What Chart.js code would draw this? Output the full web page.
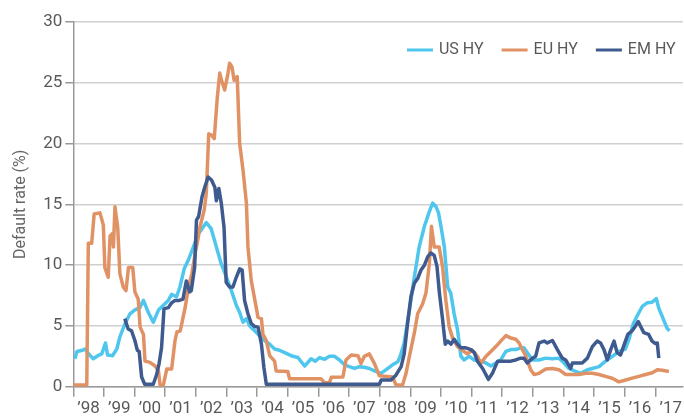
<!DOCTYPE html>
<html>
<head>
<meta charset="utf-8">
<script src="https://cdn.jsdelivr.net/npm/chart.js@4/dist/chart.umd.min.js"></script>
<style>
  body { margin: 0; background: #fff; }
  #chart { display: block; }
</style>
</head>
<body>
<canvas id="chart" width="684" height="416"></canvas>
<script>
// tick labels (one per year, drawn in the middle of each year)
const yearLabels = ['\u201998', '\u201999', '\u201900', '\u201901', '\u201902', '\u201903', '\u201904', '\u201905', '\u201906', '\u201907',
  '\u201908', '\u201909', '\u201910', '\u201911', '\u201912', '\u201913', '\u201914', '\u201915', '\u201916', '\u201917'];

// US HY default rate (%), x = decimal year
const usYears = [1998.05, 1998.12, 1998.3, 1998.38, 1998.5, 1998.65, 1998.8, 1998.93, 1999.05, 1999.12, 1999.28, 1999.42, 1999.52, 1999.69, 1999.85,
  2000.0, 2000.17, 2000.29, 2000.45, 2000.61, 2000.78, 2000.94, 2001.1, 2001.21, 2001.37, 2001.48, 2001.62, 2001.75, 2001.92,
  2002.08, 2002.18, 2002.34, 2002.5, 2002.67, 2002.83, 2003.0, 2003.16, 2003.32, 2003.43, 2003.54, 2003.65, 2003.76, 2003.92,
  2004.08, 2004.24, 2004.41, 2004.57, 2004.73, 2004.9, 2005.11, 2005.33, 2005.55, 2005.76, 2005.9, 2006.04, 2006.2, 2006.36,
  2006.52, 2006.69, 2006.85, 2007.01, 2007.18, 2007.34, 2007.5, 2007.66, 2007.83, 2008.04, 2008.21, 2008.42, 2008.59, 2008.67,
  2008.8, 2008.97, 2009.13, 2009.29, 2009.46, 2009.62, 2009.73, 2009.84, 2009.92, 2010.0, 2010.11, 2010.22, 2010.32, 2010.43,
  2010.54, 2010.65, 2010.76, 2010.92, 2011.08, 2011.3, 2011.47, 2011.63, 2011.79, 2011.95, 2012.12, 2012.28, 2012.44, 2012.6,
  2012.71, 2012.82, 2012.99, 2013.2, 2013.42, 2013.64, 2013.85, 2014.02, 2014.18, 2014.4, 2014.56, 2014.78, 2014.94, 2015.16,
  2015.37, 2015.6, 2015.81, 2016.02, 2016.15, 2016.28, 2016.42, 2016.57, 2016.73, 2016.89, 2017.03, 2017.11, 2017.22, 2017.38, 2017.46];
const usValues = [2.3, 2.9, 3.0, 3.1, 2.7, 2.3, 2.55, 2.7, 3.6, 2.6, 2.55, 3.1, 4.1, 5.2, 6.0,
  6.3, 6.5, 7.1, 6.1, 5.3, 6.3, 6.7, 7.1, 7.6, 7.4, 8.2, 9.7, 10.4, 11.5,
  12.6, 12.9, 13.5, 13.0, 11.5, 10.1, 9.0, 7.9, 6.7, 6.1, 5.3, 5.6, 5.0, 4.6,
  4.2, 3.8, 3.5, 3.1, 3.0, 2.8, 2.55, 2.4, 1.7, 2.3, 2.1, 2.4, 2.25, 2.5,
  2.5, 2.2, 1.8, 1.65, 1.5, 1.65, 1.6, 1.5, 1.3, 1.1, 1.4, 1.8, 2.05, 2.5,
  3.6, 6.3, 9.0, 11.5, 13.2, 14.4, 15.1, 14.8, 14.3, 13.2, 11.5, 8.2, 7.7, 6.0,
  4.7, 2.5, 2.2, 2.5, 2.2, 2.1, 1.95, 1.7, 1.95, 2.2, 2.9, 3.05, 3.05, 3.2,
  3.2, 2.8, 2.2, 2.2, 2.35, 2.3, 2.35, 1.95, 1.5, 1.25, 1.1, 1.4, 1.5, 1.65,
  2.1, 2.5, 2.9, 3.1, 4.0, 5.2, 5.9, 6.6, 6.9, 6.95, 7.25, 6.45, 5.8, 4.8, 4.6];

// EU HY default rate (%)
const euYears = [1998.0, 1998.44, 1998.49, 1998.6, 1998.68, 1998.87, 1998.98, 1999.03, 1999.14, 1999.2, 1999.28, 1999.31, 1999.36, 1999.45,
  1999.52, 1999.63, 1999.72, 1999.8, 1999.94, 2000.01, 2000.12, 2000.18, 2000.29, 2000.34, 2000.5, 2000.67, 2000.78, 2000.83,
  2000.94, 2001.05, 2001.21, 2001.32, 2001.38, 2001.49, 2001.65, 2001.76, 2001.87, 2001.98, 2002.08, 2002.13, 2002.27, 2002.34,
  2002.42, 2002.51, 2002.6, 2002.7, 2002.78, 2002.85, 2002.94, 2003.05, 2003.1, 2003.18, 2003.25, 2003.35, 2003.43, 2003.54,
  2003.65, 2003.7, 2003.81, 2003.92, 2004.03, 2004.14, 2004.19, 2004.3, 2004.41, 2004.57, 2004.62, 2005.0, 2005.06, 2006.09,
  2006.2, 2006.36, 2006.42, 2006.8, 2006.9, 2007.07, 2007.29, 2007.39, 2007.5, 2007.66, 2007.83, 2007.99, 2008.42, 2008.53,
  2008.75, 2008.86, 2008.97, 2009.13, 2009.24, 2009.4, 2009.51, 2009.62, 2009.69, 2009.78, 2009.94, 2010.05, 2010.16, 2010.27,
  2010.38, 2010.54, 2010.7, 2010.86, 2011.02, 2011.19, 2011.3, 2011.47, 2011.63, 2011.79, 2011.95, 2012.12, 2012.28, 2012.44,
  2012.55, 2012.77, 2012.93, 2013.04, 2013.2, 2013.42, 2013.64, 2013.85, 2014.07, 2014.5, 2014.72, 2014.94, 2015.16, 2015.37,
  2015.59, 2015.81, 2016.03, 2016.24, 2016.46, 2016.68, 2016.9, 2017.06, 2017.22, 2017.44];
const euValues = [0.15, 0.15, 11.8, 11.8, 14.2, 14.3, 13.3, 9.8, 9.0, 12.4, 12.6, 11.5, 14.8, 13.1,
  9.3, 8.2, 7.9, 9.8, 9.8, 7.8, 7.2, 4.9, 4.3, 2.1, 2.0, 1.7, 1.3, 0.15,
  0.15, 1.45, 1.45, 3.8, 4.5, 4.6, 6.5, 8.2, 9.3, 11.0, 12.3, 13.1, 14.5, 15.9,
  20.8, 20.7, 20.4, 23.8, 25.8, 25.1, 24.4, 25.8, 26.6, 26.3, 25.2, 25.5, 20.0, 17.8,
  15.1, 11.5, 8.7, 7.2, 5.7, 5.6, 4.3, 3.8, 2.55, 2.1, 1.3, 1.25, 0.65, 0.65,
  0.33, 0.33, 0.77, 0.8, 2.2, 2.6, 2.55, 1.9, 2.5, 2.7, 1.9, 0.9, 0.8, 0.15,
  0.15, 1.1, 2.5, 4.4, 6.0, 6.8, 7.7, 10.1, 13.2, 11.5, 11.5, 9.9, 7.1, 4.9,
  4.0, 3.3, 3.0, 2.7, 3.0, 2.5, 1.9, 2.5, 2.9, 3.3, 3.75, 4.2, 4.0, 3.9,
  3.6, 2.5, 1.4, 1.0, 1.1, 1.45, 1.5, 1.4, 1.0, 1.0, 1.1, 1.1, 1.0, 0.85,
  0.7, 0.4, 0.55, 0.7, 0.85, 1.0, 1.15, 1.4, 1.35, 1.25];

// EM HY default rate (%)
const emYears = [1999.68, 1999.79, 1999.9, 2000.01, 2000.09, 2000.15, 2000.23, 2000.33, 2000.61, 2000.72, 2000.8, 2000.88, 2000.96,
  2001.1, 2001.21, 2001.32, 2001.46, 2001.58, 2001.69, 2001.8, 2001.85, 2001.96, 2002.02, 2002.09, 2002.2, 2002.29, 2002.4,
  2002.51, 2002.62, 2002.67, 2002.75, 2002.83, 2002.92, 2002.99, 2003.1, 2003.21, 2003.32, 2003.43, 2003.51, 2003.59, 2003.7,
  2003.81, 2003.92, 2004.03, 2004.14, 2004.22, 2004.3, 2007.99, 2008.05, 2008.37, 2008.53, 2008.7, 2008.8, 2008.91, 2009.02,
  2009.13, 2009.24, 2009.35, 2009.46, 2009.57, 2009.67, 2009.78, 2009.87, 2009.95, 2010.05, 2010.14, 2010.22, 2010.33, 2010.43,
  2010.54, 2010.65, 2010.81, 2010.98, 2011.09, 2011.19, 2011.36, 2011.55, 2011.68, 2011.85, 2012.06, 2012.28, 2012.44, 2012.6,
  2012.71, 2012.82, 2012.99, 2013.09, 2013.2, 2013.37, 2013.47, 2013.64, 2013.8, 2013.96, 2014.07, 2014.23, 2014.29, 2014.45,
  2014.61, 2014.78, 2014.94, 2015.1, 2015.21, 2015.32, 2015.43, 2015.54, 2015.65, 2015.75, 2015.86, 2016.0, 2016.1, 2016.24,
  2016.35, 2016.44, 2016.51, 2016.62, 2016.78, 2016.89, 2017.0, 2017.06, 2017.11];
const emValues = [5.6, 4.75, 4.6, 3.8, 3.0, 2.9, 0.8, 0.2, 0.2, 1.0, 1.9, 3.2, 6.4,
  6.5, 6.9, 7.1, 7.1, 7.2, 8.7, 7.8, 7.9, 9.8, 13.7, 14.0, 15.6, 16.4, 17.25,
  17.0, 16.4, 15.3, 16.3, 15.1, 13.1, 8.6, 8.2, 8.2, 9.0, 9.7, 9.6, 7.1, 6.0,
  5.2, 4.95, 4.9, 3.5, 1.6, 0.2, 0.2, 0.55, 0.55, 0.95, 1.65, 2.7, 5.2, 7.4,
  8.5, 8.9, 9.6, 10.0, 10.7, 11.0, 10.8, 9.9, 7.7, 5.6, 3.5, 3.75, 3.5, 3.9,
  3.5, 3.2, 3.2, 3.05, 2.8, 2.1, 1.5, 0.6, 1.1, 2.1, 2.1, 2.1, 2.2, 2.35,
  2.35, 1.95, 2.35, 2.5, 3.6, 3.75, 3.6, 3.8, 3.05, 2.35, 2.2, 1.5, 1.95, 1.95,
  1.95, 2.35, 3.3, 3.75, 3.6, 3.05, 2.2, 3.05, 3.75, 2.8, 2.6, 3.6, 4.3, 4.6,
  5.0, 5.35, 5.0, 4.45, 4.3, 3.75, 3.55, 3.6, 2.35];

const yTicks = [0, 5, 10, 15, 20, 25, 30];

function toPoints(xs, ys) {
  return xs.map((x, i) => ({ x: x, y: ys[i] }));
}

// year boundaries get a tick mark, year middles get the label
const xTickValues = [];
for (let y = 1998; y <= 2017; y++) {
  xTickValues.push(y, y + 0.5);
}

const labelFont = 'Roboto, "Liberation Sans", sans-serif';

const legendLines = {
  id: 'legendLines',
  afterDraw(chart) {
    const ctx = chart.ctx;
    ctx.save();
    ctx.font = '16px ' + labelFont;
    ctx.textBaseline = 'middle';
    let x = chart.chartArea.right - 7;
    const y = 50;
    const sets = chart.data.datasets.slice().reverse();
    sets.forEach(ds => {
      const w = ctx.measureText(ds.label).width;
      x -= w;
      ctx.fillStyle = '#595959';
      ctx.fillText(ds.label, x, y);
      x -= 6;
      ctx.strokeStyle = ds.borderColor;
      ctx.lineWidth = 3;
      ctx.beginPath();
      ctx.moveTo(x - 26, y);
      ctx.lineTo(x, y);
      ctx.stroke();
      x -= 26 + 18;
    });
    ctx.restore();
  }
};

const config = {
  type: 'line',
  data: {
    datasets: [
      { label: 'US HY', data: toPoints(usYears, usValues), borderColor: '#4fc6ee', order: 3 },
      { label: 'EU HY', data: toPoints(euYears, euValues), borderColor: '#e09265', order: 2 },
      { label: 'EM HY', data: toPoints(emYears, emValues), borderColor: '#3e5a8e', order: 1 }
    ]
  },
  options: {
    responsive: false,
    animation: false,
    layout: { padding: { top: 22, right: 0, bottom: 0, left: 0 } },
    elements: {
      point: { radius: 0 },
      line: { borderWidth: 3.5, tension: 0, borderJoinStyle: 'round', fill: false }
    },
    plugins: {
      legend: { display: false },
      tooltip: { enabled: false }
    },
    scales: {
      x: {
        type: 'linear',
        min: 1998,
        max: 2017.89,
        afterBuildTicks: scale => { scale.ticks = xTickValues.map(v => ({ value: v })); },
        afterFit: scale => { scale.height = 29.3; },
        border: { color: '#999', width: 1.5 },
        grid: {
          drawOnChartArea: false,
          tickLength: 10,
          lineWidth: 1.5,
          color: c => (c.tick && Number.isInteger(c.tick.value)) ? '#999' : 'rgba(0,0,0,0)'
        },
        ticks: {
          autoSkip: false,
          maxRotation: 0,
          padding: 2,
          color: '#595959',
          font: { family: labelFont, size: 17 },
          callback: v => Number.isInteger(v) ? '' : yearLabels[Math.floor(v) - 1998]
        }
      },
      y: {
        min: 0,
        max: 30,
        afterBuildTicks: scale => { scale.ticks = yTicks.map(v => ({ value: v })); },
        afterFit: scale => { scale.width = 73.3; },
        border: { color: '#999', width: 1.5 },
        grid: { color: '#cfcfcf', lineWidth: 1.5, tickColor: '#999', tickLength: 8 },
        ticks: {
          padding: 3,
          color: '#595959',
          font: { family: labelFont, size: 17 }
        },
        title: {
          display: true,
          text: 'Default rate (%)',
          color: '#666',
          font: { family: labelFont, size: 16 },
          padding: { top: 11, bottom: 0 }
        }
      }
    }
  },
  plugins: [legendLines]
};

new Chart(document.getElementById('chart'), config);
</script>
</body>
</html>
